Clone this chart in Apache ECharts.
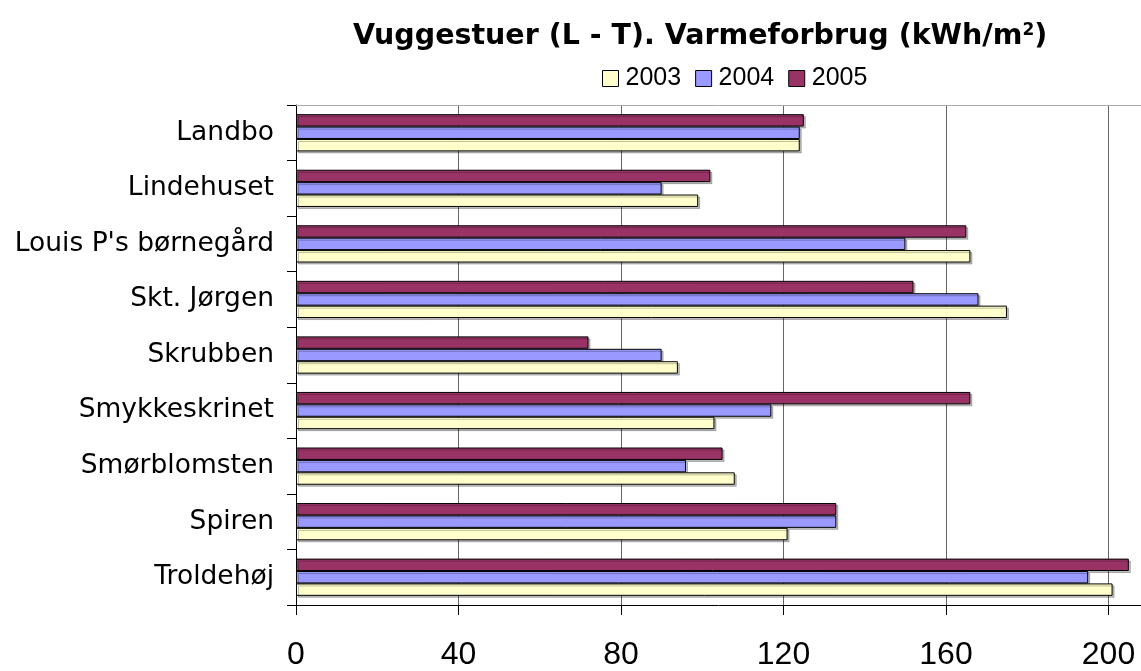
<!DOCTYPE html>
<html>
<head>
<meta charset="utf-8">
<script src="https://cdn.jsdelivr.net/npm/echarts@6/dist/echarts.min.js"></script>
<style>html,body{margin:0;padding:0;background:#fff}#c{width:1141px;height:671px}</style>
</head>
<body>
<div id="c"></div>
<script>
const categories = ["Landbo", "Lindehuset", "Louis P's børnegård", "Skt. Jørgen", "Skrubben", "Smykkeskrinet", "Smørblomsten", "Spiren", "Troldehøj"];
const values2003 = [124, 99, 166, 175, 94, 103, 108, 121, 201];
const values2004 = [124, 90, 150, 168, 90, 117, 96, 133, 195];
const values2005 = [125, 102, 165, 152, 72, 166, 105, 133, 205];
const xTicks = [0, 40, 80, 120, 160, 200];

const chart = echarts.init(document.getElementById('c'));
const barStyle = (c) => ({ color: c, borderColor: '#000', borderWidth: 1, shadowColor: 'rgba(0,0,0,0.25)', shadowOffsetX: 2, shadowOffsetY: 2, shadowBlur: 0 });
chart.setOption({
  animation: false,
  backgroundColor: '#fff',
  title: {
    text: 'Vuggestuer (L - T). Varmeforbrug (kWh/m{sup|2})',
    left: 348, top: 17,
    textStyle: {
      fontFamily: 'DejaVu Sans', fontWeight: 'bold', fontSize: 28.5, color: '#000',
      rich: { sup: { fontFamily: 'DejaVu Sans', fontWeight: 'bold', fontSize: 17, verticalAlign: 'top', color: '#000' } }
    }
  },
  legend: {
    data: ['2003', '2004', '2005'],
    left: 597, top: 61,
    icon: 'rect', itemWidth: 16, itemHeight: 16, itemGap: 14,
    itemStyle: { borderColor: '#000', borderWidth: 1 },
    textStyle: { fontFamily: 'Liberation Sans', fontSize: 25, color: '#000', padding: [0, 0, 0, 2] }
  },
  grid: { left: 296, right: 0, top: 105, bottom: 65, containLabel: false },
  xAxis: [{
    type: 'value', min: 0, max: 208, interval: 40,
    axisLine: { show: true, lineStyle: { color: '#000', width: 1 } },
    axisTick: { show: true, length: 10, lineStyle: { color: '#000' }, customValues: xTicks },
    splitLine: { show: true, lineStyle: { color: '#666', width: 1 } },
    axisLabel: {
      margin: 34, fontFamily: 'Liberation Sans', fontSize: 32, color: '#000',
      customValues: xTicks
    }
  }, {
    type: 'value', min: 0, max: 208, position: 'top',
    axisLine: { show: true, lineStyle: { color: '#aaa', width: 1 } },
    axisTick: { show: false }, axisLabel: { show: false }, splitLine: { show: false }
  }],
  yAxis: {
    type: 'category', data: categories, inverse: true,
    axisLine: { show: true, lineStyle: { color: '#000', width: 1 } },
    axisTick: { show: true, length: 9, lineStyle: { color: '#000' } },
    axisLabel: { margin: 22, fontFamily: 'DejaVu Sans', fontSize: 26.5, color: '#000' },
    splitLine: { show: false }
  },
  series: [
    { name: '2005', type: 'bar', data: values2005, barGap: '0%', barCategoryGap: '33%', itemStyle: barStyle('#993366') },
    { name: '2004', type: 'bar', data: values2004, barGap: '0%', barCategoryGap: '33%', itemStyle: barStyle('#9999FF') },
    { name: '2003', type: 'bar', data: values2003, barGap: '0%', barCategoryGap: '33%', itemStyle: barStyle('#FFFFCC') }
  ]
});
</script>
</body>
</html>
